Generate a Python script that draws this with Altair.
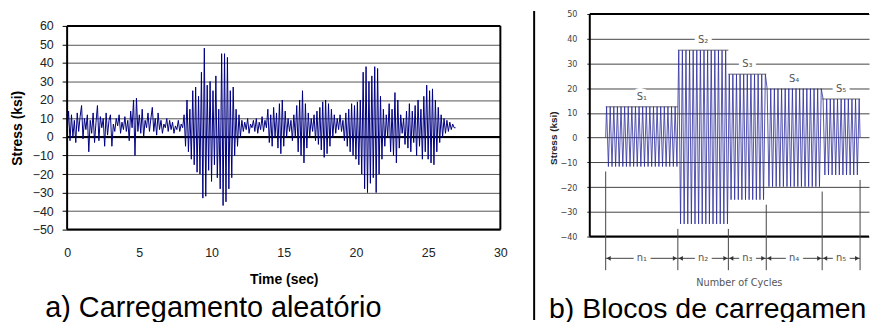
import altair as alt
import pandas as pd

FONT = "Liberation Sans, Arial, sans-serif"
NARROW = "Liberation Sans Narrow, DejaVu Sans Condensed, Arial Narrow, sans-serif"
VFONT = "DejaVu Sans, Verdana, sans-serif"

# ---------------- (a) random loading : stress every 0.1 s ----------------
STEP_A = 0.1
STRESS_A = [
    2, 14, -2, 12, 0, 9, -3, 13, 3, 11,
    17, -1, 10, 4, 12, -8, 9, 2, 13, -3,
    8, 17, -2, 11, 5, 10, -5, 13, 1, 9,
    12, -5, 7, 3, 10, 6, 12, 2, 8, 4,
    11, 3, 9, -2, 14, 5, 20, -10, 21, 3,
    12, 2, 15, 0, 9, 5, 13, 3, 10, 16,
    3, 10, 1, 13, 4, 9, 2, 7, 5, 10,
    3, 9, 4, 8, 2, 6, 4, 9, 3, 7,
    5, 12, -5, 20, -8, 15, -12, 25, -15, 27,
    -19, 22, -20, 35, -33, 48, -32, 28, -18, 30,
    -24, 25, -15, 33, -22, 15, -28, 45, -37, 45,
    -35, 43, -28, 25, -22, 27, -10, 15, -5, 12,
    0, 9, 3, 8, 4, 10, 2, 7, 5, 9,
    3, 10, 2, 8, 4, 11, 3, 9, 5, 15,
    -3, 12, -5, 16, 0, 13, -6, 18, -9, 20,
    -5, 14, 0, 10, 3, 9, -2, 12, 0, 17,
    -8, 20, -10, 25, -14, 18, -6, 13, 0, 10,
    3, 12, -2, 14, -4, 16, -7, 19, -11, 20,
    -9, 18, -5, 15, 0, 12, 2, 10, 4, 12,
    3, 9, -2, 13, -5, 15, -8, 18, -10, 17,
    -12, 19, -15, 20, -20, 35, -28, 38, -30, 30,
    -25, 33, -22, 38, -30, 37, -20, 22, -12, 15,
    -5, 12, 0, 18, -8, 15, -10, 24, -14, 20,
    -6, 12, 2, 10, -4, 14, -6, 18, -8, 14,
    -3, 17, -10, 20, -5, 15, -12, 22, -8, 28,
    -12, 25, -14, 26, -15, 20, -8, 16, -3, 12,
    0, 10, 2, 9, 3, 8, 4, 7, 5, 5,
]
TIME_A = [round(i * STEP_A, 1) for i in range(len(STRESS_A))]
Y_TICKS_A = list(range(-50, 61, 10))
X_TICKS_A = list(range(0, 31, 5))

# ---------------- (b) block loading ----------------
S_LABELS = ["S\u2081", "S\u2082", "S\u2083", "S\u2084", "S\u2085"]
N_LABELS = ["n\u2081", "n\u2082", "n\u2083", "n\u2084", "n\u2085"]
BLOCK_CYCLES = [20, 14, 10.5, 15.5, 10.5]
BLOCK_MAX = [12.5, 35.3, 25.6, 19.8, 15.6]
BLOCK_MIN = [-11.7, -34.9, -25.1, -19.8, -15.1]
Y_TICKS_B = list(range(-40, 51, 10))

CAPTION_A = "a) Carregamento aleatório"
CAPTION_B = "b) Blocos de carregamen"

# ---------------- layout constants ----------------
W_A, PX_A = 436, 205 / 110.0          # left plot width, px per ksi
H_A = 217
YA_TOP = 60 + 12 / PX_A
W_B, H_B = 281, 224
PX_B = H_B / 90.0
PPC = 256 / sum(BLOCK_CYCLES)         # px per cycle
XB_MIN = -16 / PPC
XB_MAX = XB_MIN + W_B / PPC
ARROW_Y = -48.8
EXT_BOTTOM = -53.6

# ---------------- tables ----------------
df_a = pd.DataFrame({"t": TIME_A, "s": STRESS_A})

edges = [0.0]
for n in BLOCK_CYCLES:
    edges.append(edges[-1] + n)

wave_x, wave_y = [0.0], [0.0]
for i, n in enumerate(BLOCK_CYCLES):
    for k in range(int(round(2 * n))):
        wave_x.append(edges[i] + 0.25 + 0.5 * k)
        wave_y.append(BLOCK_MAX[i] if k % 2 == 0 else BLOCK_MIN[i])
wave_x.append(edges[-1])
wave_y.append(0.0)
df_wave = pd.DataFrame({"c": wave_x, "s": wave_y})

df_blocks = pd.DataFrame({
    "c0": edges[:-1], "c1": edges[1:],
    "mid": [(a + b) / 2 for a, b in zip(edges[:-1], edges[1:])],
    "smax": BLOCK_MAX, "smin": BLOCK_MIN,
    "slab": S_LABELS, "nlab": N_LABELS,
    "ay": [ARROW_Y] * len(BLOCK_CYCLES),
})
ext_top = []
for j in range(len(edges)):
    adj = [BLOCK_MIN[k] for k in (j - 1, j) if 0 <= k < len(BLOCK_MIN)]
    ext_top.append(min(adj) - 2)
df_edges = pd.DataFrame({"c": edges, "top": ext_top, "bot": [EXT_BOTTOM] * len(edges)})

# ---------------- chart (a) ----------------
xa = alt.Scale(domain=[0, 30], nice=False)
ya = alt.Scale(domain=[-50, YA_TOP], nice=False)

wave_a = alt.Chart(df_a).mark_line(color="#000080", strokeWidth=1).encode(
    x=alt.X("t:Q", scale=xa, axis=alt.Axis(
        values=X_TICKS_A, tickCount=len(X_TICKS_A), grid=False, ticks=False, domain=False,
        labelFlush=False, labelOverlap=False,
        labelPadding=17.5, labelFont=FONT, labelFontSize=12.5, labelColor="#222",
        title="Time (sec)", titleFont=FONT, titleFontSize=14, titleFontWeight="bold",
        titleColor="black", titleY=49.8, titleBaseline="middle")),
    y=alt.Y("s:Q", scale=ya, axis=alt.Axis(
        values=Y_TICKS_A, tickCount=len(Y_TICKS_A), labelOverlap=False,
        grid=True, gridColor="#555", gridWidth=1, domain=False,
        ticks=True, tickSize=5, tickColor="black", labelPadding=9,
        labelFont=FONT, labelFontSize=12.5, labelColor="#222",
        title="Stress (ksi)", titleFont=FONT, titleFontSize=14, titleFontWeight="bold",
        titleColor="black", titleX=-49.5, titleY=114.5, titleBaseline="middle",
        titleAlign="center", titleAngle=270)),
)
zero_a = alt.Chart(pd.DataFrame({"y": [0]})).mark_rule(color="black", strokeWidth=2).encode(
    y=alt.Y("y:Q", scale=ya), x=alt.datum(0), x2=alt.datum(30))
frame_h_a = alt.Chart(pd.DataFrame({"y": [-50, 60]})).mark_rule(color="black", strokeWidth=2).encode(
    y=alt.Y("y:Q", scale=ya), x=alt.datum(0), x2=alt.datum(30))
frame_v_a = alt.Chart(pd.DataFrame({"x": [0, 30]})).mark_rule(color="black", strokeWidth=2).encode(
    x=alt.X("x:Q", scale=xa), y=alt.datum(-50), y2=alt.datum(60))

chart_a = alt.layer(zero_a, wave_a, frame_h_a, frame_v_a).properties(
    width=W_A, height=H_A,
    title=alt.TitleParams(CAPTION_A, orient="bottom", anchor="start", frame="group",
                          dx=-22, offset=8.5, font=FONT, fontSize=29, fontWeight="normal",
                          color="black"))

# ---------------- chart (b) ----------------
xb = alt.Scale(domain=[XB_MIN, XB_MAX], nice=False)
yb = alt.Scale(domain=[-40, 50], nice=False)

wave_b = alt.Chart(df_wave).mark_line(color="#2b2b9c", strokeWidth=0.8).encode(
    x=alt.X("c:Q", scale=xb, axis=alt.Axis(
        labels=False, ticks=False, domain=False, grid=False,
        title="Number of Cycles", titleFont=VFONT, titleFontSize=9.8, titleFontWeight="normal",
        titleColor="#555", titleY=46.5, titleX=150, titleBaseline="middle")),
    y=alt.Y("s:Q", scale=yb, axis=alt.Axis(
        values=Y_TICKS_B, tickCount=len(Y_TICKS_B), labelOverlap=False,
        grid=True, gridColor="#444", gridWidth=1, domain=False,
        ticks=True, tickSize=3, tickColor="#222", labelPadding=10,
        labelFont=NARROW, labelFontSize=9, labelColor="#444",
        title="Stress (ksi)", titleFont=FONT, titleFontSize=10, titleFontWeight="bold",
        titleColor="#222", titleX=-36, titleY=124.5, titleBaseline="middle",
        titleAlign="center", titleAngle=270)),
)
envelope = alt.Chart(df_blocks).mark_rule(color="#999", strokeWidth=1.5).encode(
    x=alt.X("c0:Q", scale=xb), x2="c1:Q", y=alt.Y("smax:Q", scale=yb))
frame_h_b = alt.Chart(pd.DataFrame({"y": [-40, 50]})).mark_rule(color="black", strokeWidth=2).encode(
    y=alt.Y("y:Q", scale=yb), x=alt.datum(XB_MIN), x2=alt.datum(XB_MAX))
frame_v_b = alt.Chart(pd.DataFrame({"x": [XB_MIN]})).mark_rule(color="black", strokeWidth=2).encode(
    x=alt.X("x:Q", scale=xb), y=alt.datum(-40), y2=alt.datum(50))
ext_lines = alt.Chart(df_edges).mark_rule(color="#444", strokeWidth=1).encode(
    x=alt.X("c:Q", scale=xb), y=alt.Y("top:Q", scale=yb), y2="bot:Q")
arrows = alt.Chart(df_blocks).mark_rule(color="#444", strokeWidth=1).encode(
    x=alt.X("c0:Q", scale=xb), x2="c1:Q", y=alt.Y("ay:Q", scale=yb))
head_l = alt.Chart(df_blocks).mark_point(shape="triangle-left", filled=True, size=22,
                                         color="#333", opacity=1, xOffset=3).encode(
    x=alt.X("c0:Q", scale=xb), y=alt.Y("ay:Q", scale=yb))
head_r = alt.Chart(df_blocks).mark_point(shape="triangle-right", filled=True, size=22,
                                         color="#333", opacity=1, xOffset=-3).encode(
    x=alt.X("c1:Q", scale=xb), y=alt.Y("ay:Q", scale=yb))
n_halo = alt.Chart(df_blocks).mark_text(font=VFONT, fontSize=10, fill="white", stroke="white",
                                        strokeWidth=8, baseline="middle").encode(
    x=alt.X("mid:Q", scale=xb), y=alt.Y("ay:Q", scale=yb), text="nlab:N")
n_text = alt.Chart(df_blocks).mark_text(font=VFONT, fontSize=10, color="#555",
                                        baseline="middle").encode(
    x=alt.X("mid:Q", scale=xb), y=alt.Y("ay:Q", scale=yb), text="nlab:N")
s_halo = alt.Chart(df_blocks).mark_text(font=VFONT, fontSize=10, fill="white", stroke="white",
                                        strokeWidth=8, baseline="bottom", dy=-5).encode(
    x=alt.X("mid:Q", scale=xb), y=alt.Y("smax:Q", scale=yb), text="slab:N")
s_text = alt.Chart(df_blocks).mark_text(font=VFONT, fontSize=10, color="#555",
                                        baseline="bottom", dy=-5).encode(
    x=alt.X("mid:Q", scale=xb), y=alt.Y("smax:Q", scale=yb), text="slab:N")
divider = alt.Chart(pd.DataFrame({"x": [XB_MIN - 56 / PPC]})).mark_rule(
    color="black", strokeWidth=2).encode(
    x=alt.X("x:Q", scale=xb), y=alt.datum(50 + 3 / PX_B), y2=alt.datum(-40 - 84 / PX_B))

chart_b = alt.layer(envelope, wave_b, frame_h_b, frame_v_b, ext_lines, arrows, head_l, head_r,
                    n_halo, n_text, s_halo, s_text, divider).properties(
    width=W_B, height=H_B,
    title=alt.TitleParams(CAPTION_B, orient="bottom", anchor="start", frame="group",
                          dx=-41, offset=-26.5, font=FONT, fontSize=28.6, fontWeight="normal",
                          color="black"))

chart = alt.hconcat(chart_a, chart_b, spacing=90, bounds="flush").properties(
    padding={"left": 2.5, "top": 0, "right": 0, "bottom": 0}
).configure_view(stroke=None)

chart.save("out.html", embed_options={"renderer": "svg", "actions": False})
